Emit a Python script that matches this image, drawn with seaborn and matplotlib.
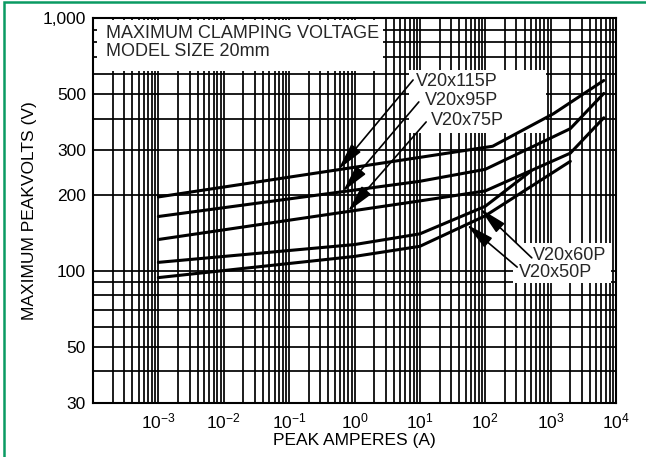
import numpy as np
import pandas as pd
import matplotlib
matplotlib.use("Agg")
import matplotlib.pyplot as plt
from matplotlib.patches import Rectangle
from matplotlib.ticker import FixedLocator, FixedFormatter, NullFormatter
import seaborn as sns

# ---- data ----
models = ["V20x115P", "V20x95P", "V20x75P", "V20x60P", "V20x50P"]
amps_115 = [1e-3, 10, 130, 1100, 6500]
volts_115 = [196, 281, 311, 418, 566]
amps_95 = [1e-3, 10, 100, 2000, 6500]
volts_95 = [164, 226, 252, 365, 503]
amps_75 = [1e-3, 10, 100, 2000, 6500]
volts_75 = [133, 189, 207, 292, 403]
amps_60 = [1e-3, 1, 10, 100, 500]
volts_60 = [108, 127, 140, 180, 248]
amps_50 = [1e-3, 1, 10, 100, 2000]
volts_50 = [94, 114, 125, 165, 271]

x_major = [1e-3, 1e-2, 1e-1, 1e0, 1e1, 1e2, 1e3, 1e4]
x_major_labels = [r"$\mathregular{10^{-3}}$", r"$\mathregular{10^{-2}}$",
                  r"$\mathregular{10^{-1}}$", r"$\mathregular{10^{0}}$",
                  r"$\mathregular{10^{1}}$", r"$\mathregular{10^{2}}$",
                  r"$\mathregular{10^{3}}$", r"$\mathregular{10^{4}}$"]
y_major = [30, 50, 100, 200, 300, 500, 1000]
y_major_labels = ["30", "50", "100", "200", "300", "500", "1,000"]
y_minor = [40, 60, 70, 80, 90, 400, 600, 700, 800, 900]

series = {
    "V20x115P": (amps_115, volts_115),
    "V20x95P": (amps_95, volts_95),
    "V20x75P": (amps_75, volts_75),
    "V20x60P": (amps_60, volts_60),
    "V20x50P": (amps_50, volts_50),
}
rows = []
for m in models:
    a, v = series[m]
    for xi, yi in zip(a, v):
        rows.append({"model": m, "amps": xi, "volts": yi})
df = pd.DataFrame(rows)

sns.set_style("white")
plt.rcParams["font.family"] = ["Liberation Sans", "DejaVu Sans"]
plt.rcParams["mathtext.fontset"] = "custom"
plt.rcParams["mathtext.rm"] = "Liberation Sans"

fig = plt.figure(figsize=(6.46, 4.57), dpi=100)
ax = fig.add_axes([93/646, 1-403/457, 523/646, 385/457])

sns.lineplot(data=df, x="amps", y="volts", hue="model", estimator=None, sort=False,
             palette={m: "black" for m in models}, linewidth=2.2, legend=False,
             ax=ax, zorder=2)

ax.set_xscale("log")
ax.set_yscale("log")
ax.set_xlim(1e-4, 1e4)
ax.set_ylim(30, 1000)

x_minor = [k * 10.0**n for n in range(-4, 4) for k in range(2, 10)]
ax.xaxis.set_major_locator(FixedLocator(x_major))
ax.xaxis.set_major_formatter(FixedFormatter(x_major_labels))
ax.xaxis.set_minor_locator(FixedLocator(x_minor))
ax.xaxis.set_minor_formatter(NullFormatter())
ax.yaxis.set_major_locator(FixedLocator(y_major))
ax.yaxis.set_major_formatter(FixedFormatter(y_major_labels))
ax.yaxis.set_minor_locator(FixedLocator(y_minor))
ax.yaxis.set_minor_formatter(NullFormatter())

ax.set_axisbelow(True)
ax.grid(True, which="both", color="black", linewidth=1.25)
ax.tick_params(axis="x", which="both", length=0, pad=6, labelsize=12.5, colors="black")
ax.tick_params(axis="y", which="major", length=3, width=1.2, pad=2, labelsize=12.5, colors="black")
ax.tick_params(axis="y", which="minor", length=0)
for s in ax.spines.values():
    s.set_color("black")
    s.set_linewidth(1.5)

ax.set_xlabel("PEAK AMPERES (A)", fontsize=12.5, labelpad=1, color="black")
ax.set_ylabel("MAXIMUM PEAKVOLTS (V)", fontsize=12.5, labelpad=4, color="black")

# white boxes behind the annotation texts
ax.add_patch(Rectangle((0.0076, 0.862), 0.547, 0.133, transform=ax.transAxes,
                       facecolor="white", edgecolor="none", zorder=1.5))
ax.add_patch(Rectangle((0.604, 0.701), 0.262, 0.164, transform=ax.transAxes,
                       facecolor="white", edgecolor="none", zorder=1.5))
ax.add_patch(Rectangle((0.803, 0.312), 0.187, 0.104, transform=ax.transAxes,
                       facecolor="white", edgecolor="none", zorder=1.5))

tfs = 13
ax.text(0.0249, 0.961, "MAXIMUM CLAMPING VOLTAGE", transform=ax.transAxes,
        fontsize=tfs, va="center", ha="left", zorder=3)
ax.text(0.0249, 0.9117, "MODEL SIZE 20mm", transform=ax.transAxes,
        fontsize=tfs, va="center", ha="left", zorder=3)

label_pos = {
    "V20x115P": ((0.6176, 0.834), (0.612, 0.839), 0.56),
    "V20x95P": ((0.635, 0.787), (0.623, 0.782), 0.66),
    "V20x75P": ((0.646, 0.735), (0.637, 0.730), 0.79),
    "V20x60P": ((0.841, 0.384), (0.839, 0.377), 83),
    "V20x50P": ((0.8145, 0.338), (0.811, 0.353), 52),
}
for m in models:
    (tx, ty), (ax_, ay_), tipx = label_pos[m]
    a, v = series[m]
    tipy = 10 ** np.interp(np.log10(tipx), np.log10(a), np.log10(v))
    ax.text(tx, ty, m, transform=ax.transAxes, fontsize=tfs, va="center", ha="left", zorder=3)
    ax.annotate("", xy=(tipx, tipy), xycoords="data",
                xytext=(ax_, ay_), textcoords="axes fraction",
                arrowprops=dict(arrowstyle="-|>,head_length=1.0,head_width=0.22",
                                color="black", lw=1.2, shrinkA=0, shrinkB=0,
                                mutation_scale=17),
                zorder=3)

# green frame
fig.patches.append(Rectangle((4/646, -0.1), 2.0, 1.0956, transform=fig.transFigure,
                             fill=False, edgecolor="#0a9a63", linewidth=1.8, zorder=10))

fig.savefig("out.png", dpi=100)
